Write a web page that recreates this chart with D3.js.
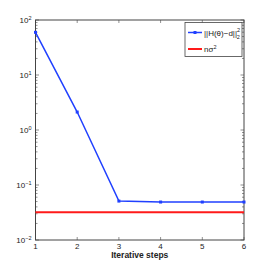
<!DOCTYPE html>
<html>
<head>
<meta charset="utf-8">
<script src="https://cdn.jsdelivr.net/npm/d3@7"></script>
<style>
body { margin:0; background:#fff; }
svg text { font-family: "Liberation Sans", Arial, sans-serif; fill:#222; }
</style>
</head>
<body>
<div id="chart"></div>
<script>
// data
var steps = [1, 2, 3, 4, 5, 6];
var residual = [59.7, 2.12, 0.051, 0.049, 0.049, 0.049];
var noiseLevel = 0.032;
var xTicks = [1, 2, 3, 4, 5, 6];
var yDecades = [-2, -1, 0, 1, 2];

var width = 270, height = 270;
var margin = {left: 35.5, right: 26, top: 20, bottom: 30};

var svg = d3.select("#chart").append("svg")
  .attr("width", width)
  .attr("height", height);

var x = d3.scaleLinear().domain([1, 6]).range([margin.left, width - margin.right]);
var y = d3.scaleLog().domain([0.01, 100]).range([height - margin.bottom, margin.top]);

var x0 = x.range()[0], x1 = x.range()[1], y0 = y.range()[0], y1 = y.range()[1];
var axisCol = "#444";

// minor + major ticks on both sides (inward)
var minor = [];
for (var e = -2; e < 2; e++) {
  for (var k = 2; k <= 9; k++) minor.push(k * Math.pow(10, e));
}
var g = svg.append("g");
minor.forEach(function(v){
  g.append("line").attr("x1", x0).attr("x2", x0 + 2).attr("y1", y(v)).attr("y2", y(v)).attr("stroke", axisCol).attr("stroke-width", 0.6);
  g.append("line").attr("x1", x1).attr("x2", x1 - 2).attr("y1", y(v)).attr("y2", y(v)).attr("stroke", axisCol).attr("stroke-width", 0.6);
});
yDecades.forEach(function(d){
  var v = Math.pow(10, d);
  g.append("line").attr("x1", x0).attr("x2", x0 + 3.5).attr("y1", y(v)).attr("y2", y(v)).attr("stroke", axisCol).attr("stroke-width", 0.6);
  g.append("line").attr("x1", x1).attr("x2", x1 - 3.5).attr("y1", y(v)).attr("y2", y(v)).attr("stroke", axisCol).attr("stroke-width", 0.6);
  var t = g.append("text").attr("x", x0 - 4).attr("y", y(v) + 3).attr("text-anchor", "end").attr("font-size", 8);
  t.append("tspan").text("10");
  t.append("tspan").attr("dy", -3.5).attr("font-size", 5.5).text(d < 0 ? "\u2212" + (-d) : d);
});
xTicks.forEach(function(d){
  g.append("line").attr("x1", x(d)).attr("x2", x(d)).attr("y1", y0).attr("y2", y0 - 3).attr("stroke", axisCol).attr("stroke-width", 0.6);
  g.append("line").attr("x1", x(d)).attr("x2", x(d)).attr("y1", y1).attr("y2", y1 + 3).attr("stroke", axisCol).attr("stroke-width", 0.6);
  g.append("text").attr("x", x(d)).attr("y", y0 + 9).attr("text-anchor", "middle").attr("font-size", 8).text(d);
});

// box
svg.append("rect").attr("x", x0).attr("y", y1).attr("width", x1 - x0).attr("height", y0 - y1)
  .attr("fill", "none").attr("stroke", axisCol).attr("stroke-width", 1);

// red line
svg.append("line").attr("x1", x0).attr("x2", x1).attr("y1", y(noiseLevel)).attr("y2", y(noiseLevel))
  .attr("stroke", "#ff1a1a").attr("stroke-width", 2);

// blue series
var line = d3.line().x(function(d, i){ return x(steps[i]); }).y(function(d){ return y(d); });
svg.append("path").datum(residual).attr("d", line)
  .attr("fill", "none").attr("stroke", "#2040ff").attr("stroke-width", 1.5);
svg.selectAll(".pt").data(residual).enter().append("rect")
  .attr("class", "pt")
  .attr("x", function(d, i){ return x(steps[i]) - 1.5; })
  .attr("y", function(d){ return y(d) - 1.5; })
  .attr("width", 3).attr("height", 3).attr("fill", "#2040ff");

// legend
var lg = svg.append("g");
lg.append("rect").attr("x", 185).attr("y", 22.5).attr("width", 57).attr("height", 34)
  .attr("fill", "#fff").attr("stroke", axisCol).attr("stroke-width", 0.8);
lg.append("line").attr("x1", 188).attr("x2", 202).attr("y1", 32.5).attr("y2", 32.5).attr("stroke", "#2040ff").attr("stroke-width", 1.5);
lg.append("rect").attr("x", 193.5).attr("y", 31).attr("width", 3).attr("height", 3).attr("fill", "#2040ff");
lg.append("line").attr("x1", 188).attr("x2", 202).attr("y1", 49).attr("y2", 49).attr("stroke", "#ff1a1a").attr("stroke-width", 2);
var t1 = lg.append("text").attr("x", 204).attr("y", 35.5).attr("font-size", 8);
t1.append("tspan").text("||H(\u03b8)\u2212d||");
t1.append("tspan").attr("dy", -4).attr("font-size", 5.5).text("2");
t1.append("tspan").attr("dx", -3.2).attr("dy", 7.5).attr("font-size", 5.5).text("2");
var t2 = lg.append("text").attr("x", 204).attr("y", 52).attr("font-size", 8);
t2.append("tspan").text("n\u03c3");
t2.append("tspan").attr("dy", -3.5).attr("font-size", 5.5).text("2");

// x label
svg.append("text").attr("x", (x0 + x1) / 2).attr("y", 258).attr("text-anchor", "middle")
  .attr("font-size", 8.5).attr("font-weight", "bold").text("Iterative steps");
</script>
</body>
</html>
